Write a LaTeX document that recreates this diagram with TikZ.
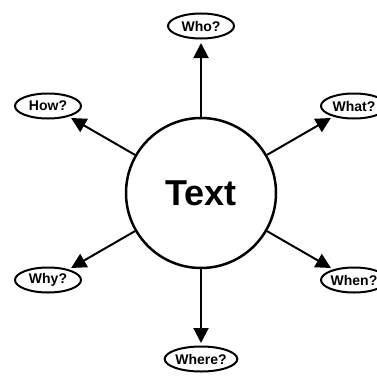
\documentclass[tikz,border=0pt]{standalone}
\usepackage{fontspec}
\setmainfont{Liberation Sans}
\usetikzlibrary{shapes.geometric,arrows.meta}
\tikzset{
  q/.style={ellipse, draw, line width=2pt, minimum width=66pt, minimum height=25pt, inner sep=0pt,
            font=\fontsize{14}{16}\selectfont\bfseries},
  hub/.style={circle, draw, line width=2.5pt, minimum size=150pt, inner sep=0pt,
            font=\fontsize{36}{40}\selectfont\bfseries},
  spoke/.style={line width=2pt, -{Triangle[length=15pt,width=15pt]}}
}
\begin{document}
\begin{tikzpicture}[x=1pt,y=1pt]
\clip (0,0) rectangle (377,376);
\fill[white] (0,0) rectangle (377,376);
\node[hub] (c) at (201,183) {Text};
\node[q] (who) at (201,350) {Who?};
\node[q] (how) at (48,270) {How?};
\node[q] (what) at (354,270) {What?};
\node[q] (why) at (48,96) {Why?};
\node[q] (when) at (354,96) {When?};
\node[q] (where) at (201,17) {Where?};
\foreach \n/\a in {who/90, how/150, what/30, why/210, when/330, where/270}{
  \coordinate (t\n) at ([shift={(\a:150)}]c.center);
  \draw[spoke] (c.\a) -- (t\n);
}
\end{tikzpicture}
\end{document}
